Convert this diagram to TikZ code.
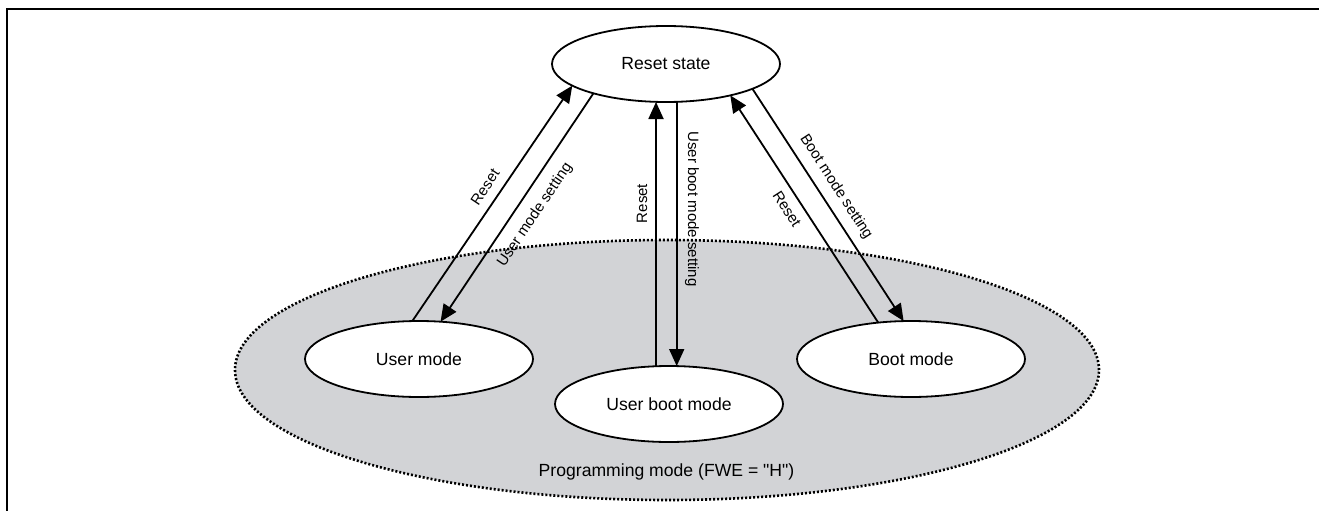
\documentclass[tikz,border=0pt]{standalone}
\usepackage{fontspec}
\setmainfont{Liberation Sans}
\newfontfamily\plainsans{Liberation Sans}
\usetikzlibrary{shapes.geometric,arrows.meta,calc}
\definecolor{pmgray}{RGB}{210,211,214}
\tikzset{
  statenode/.style={ellipse,draw,line width=1.8pt,fill=white,minimum width=228pt,minimum height=76pt,inner sep=0pt,outer sep=0pt,font=\fontsize{17.6}{20}\selectfont},
  regionnode/.style={ellipse,draw,fill=pmgray,line width=2.6pt,dash pattern=on 2pt off 2pt,minimum width=864pt,minimum height=260pt,inner sep=0pt,outer sep=0pt},
  arr/.style={line width=1.8pt,-{Triangle[length=17pt,width=15pt]}},
  lbl/.style={font=\fontsize{15}{17}\selectfont,inner sep=0pt},
  maintext/.style={font=\plainsans\fontsize{17.6}{20}\selectfont,inner sep=0pt}
}
\begin{document}
\begin{tikzpicture}[x=1pt,y=1pt]
\useasboundingbox (0,0) rectangle (1319,-511);
\draw[line width=2pt] (1319,-9) -- (7,-9) -- (7,-511);

\node[regionnode] (pm) at (667,-370) {};
\node[maintext] (pmtext) at (666.5,-472) {Programming mode (FWE = "H")};

\node[statenode] (rs) at (666,-64) {Reset state};
\node[statenode] (um) at (419,-359) {User mode};
\node[statenode] (ubm) at (669,-404) {User boot mode};
\node[statenode] (bm) at (911,-359) {Boot mode};

\draw[arr] (um.100.6) -- (rs.193.6);
\draw[arr] (rs.202.5) -- (um.60.2);
\draw[arr] ($(ubm.north)+(-13,0)$) -- ($(rs.south)+(-10,0)$);
\draw[arr] ($(rs.south)+(10.7,0)$) -- ($(ubm.north)+(7.7,0)$);
\draw[arr] (bm.132.6) -- (rs.334);
\draw[arr] (rs.344) -- (bm.101);

\node[lbl,rotate=56.3] (l1) at (485,-187) {Reset};
\node[lbl,rotate=56.1] (l2) at (535,-215) {User mode setting};
\node[lbl,rotate=90] (l3) at (642,-203.5) {Reset};
\node[lbl,rotate=-90] (l4) at (692,-209) {User boot mode setting};
\node[lbl,rotate=-57.4] (l5) at (787,-209) {Reset};
\node[lbl,rotate=-57] (l6) at (836,-187) {Boot mode setting};
\end{tikzpicture}
\end{document}
